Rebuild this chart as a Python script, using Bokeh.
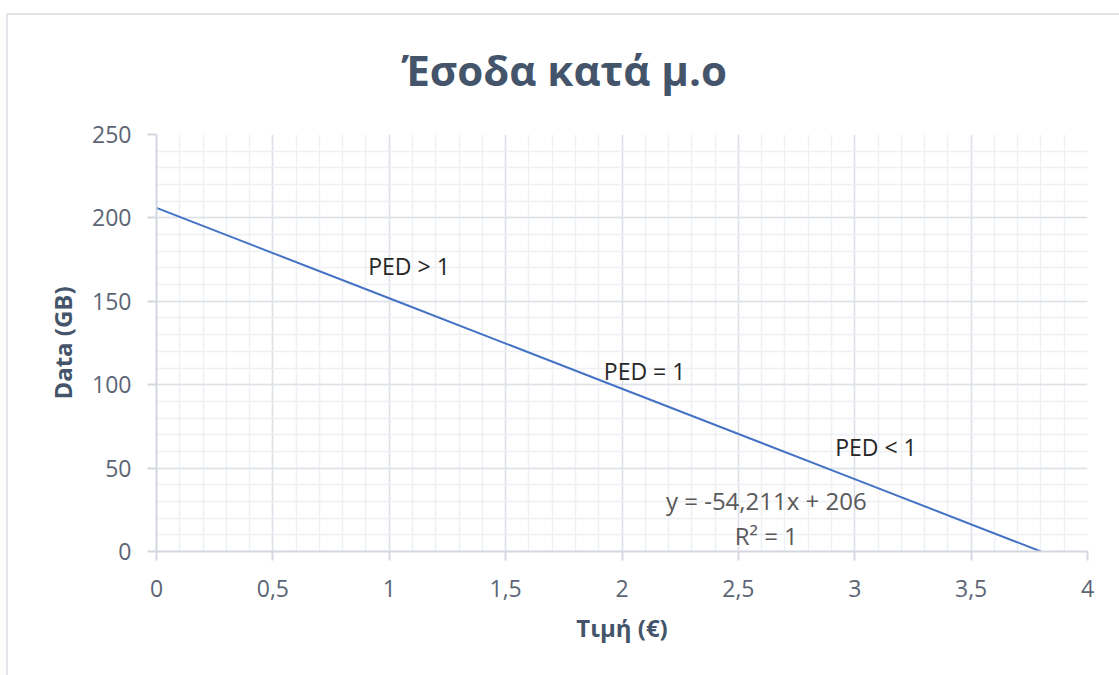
from bokeh.plotting import figure
from bokeh.models import FixedTicker, Label, ColumnDataSource
from bokeh.embed import file_html
from bokeh.resources import INLINE

# Demand line: price (€) vs data volume (GB)
price = [0, 1, 2, 3, 3.8]
data_gb = [206, 151.8, 97.6, 43.4, 0]

x_ticks = [0, 0.5, 1, 1.5, 2, 2.5, 3, 3.5, 4]
x_tick_labels = ["0", "0,5", "1", "1,5", "2", "2,5", "3", "3,5", "4"]
y_ticks = [0, 50, 100, 150, 200, 250]
y_tick_labels = ["0", "50", "100", "150", "200", "250"]

# Elasticity zone notes along the line
zone_x = [1.085, 2.097, 3.091]
zone_y = [171, 108, 62.5]
zone_text = ["PED > 1", "PED = 1", "PED < 1"]

trend_text = ["y = -54,211x + 206", "R² = 1"]
trend_x = [2.62, 2.62]
trend_y = [30.6, 9.6]

chart_title = "Έσοδα κατά μ.ο"

FONT = "Open Sans"
TEXT_BLUE = "#44546a"
TICK_GREY = "#5b6575"
EDGE = "#e2e5ea"
W, H = 1113, 675

p = figure(
    width=W, height=H,
    x_range=(0, 4), y_range=(0, 250),
    output_backend="svg", toolbar_location=None,
    min_border_left=150, min_border_right=32,
    min_border_top=134, min_border_bottom=124,
    title=chart_title,
)
# Chart-area edge lines (top and left) painted behind a transparent border fill
p.styles = {
    "margin-left": "6px",
    "background": (
        f"linear-gradient({EDGE}, {EDGE}) 0 13px / 100% 2px no-repeat, "
        f"linear-gradient({EDGE}, {EDGE}) 0 13px / 2px 100% no-repeat, #ffffff"
    ),
}
p.border_fill_alpha = 0
p.background_fill_color = "white"
p.outline_line_color = None

# Title centred over the whole chart box rather than the plot frame
p.title.align = "left"
p.title.vertical_align = "middle"
p.title.offset = 245
p.title.standoff = 71
p.title.text_font = FONT
p.title.text_font_size = "42px"
p.title.text_font_style = "bold"
p.title.text_color = TEXT_BLUE

p.xaxis.ticker = FixedTicker(ticks=x_ticks, minor_ticks=[i / 10 for i in range(41)])
p.yaxis.ticker = FixedTicker(ticks=y_ticks, minor_ticks=list(range(0, 251, 10)))
p.xaxis.major_label_overrides = dict(zip(x_ticks, x_tick_labels))
p.yaxis.major_label_overrides = dict(zip(y_ticks, y_tick_labels))

for ax in (p.xaxis, p.yaxis):
    ax.axis_line_color = "#d3d8e0"
    ax.axis_line_width = 2
    ax.major_tick_line_color = "#d3d8e0"
    ax.major_tick_line_width = 2
    ax.major_tick_out = 9
    ax.major_tick_in = 0
    ax.minor_tick_line_color = None
    ax.major_label_text_font = FONT
    ax.major_label_text_font_size = "23px"
    ax.major_label_text_color = TICK_GREY
    ax.axis_label_text_font = FONT
    ax.axis_label_text_font_size = "24px"
    ax.axis_label_text_font_style = "bold"
    ax.axis_label_text_color = TEXT_BLUE

p.xaxis.axis_label = "Τιμή (€)"
p.yaxis.axis_label = "Data (GB)"
p.xaxis.major_label_standoff = 19
p.yaxis.major_label_standoff = 16
p.xaxis.axis_label_standoff = 11
p.yaxis.axis_label_standoff = 10

for g in (p.xgrid, p.ygrid):
    g.grid_line_color = "#dde1e8"
    g.grid_line_width = 1.5
    g.minor_grid_line_color = "#eef0f4"
    g.minor_grid_line_width = 1.5

src = ColumnDataSource(dict(x=price, y=data_gb))
p.line("x", "y", source=src, line_color="#4472c4", line_width=2)

for tx, ty, t in zip(zone_x, zone_y, zone_text):
    p.add_layout(Label(x=tx, y=ty, text=t, text_align="center", text_baseline="middle",
                       text_font=FONT, text_font_size="23px", text_color="#262626"))

for tx, ty, t in zip(trend_x, trend_y, trend_text):
    p.add_layout(Label(x=tx, y=ty, text=t, text_align="center", text_baseline="middle",
                       text_font=FONT, text_font_size="24px", text_color="#595959"))

open("out.html", "w").write(file_html(p, INLINE))
